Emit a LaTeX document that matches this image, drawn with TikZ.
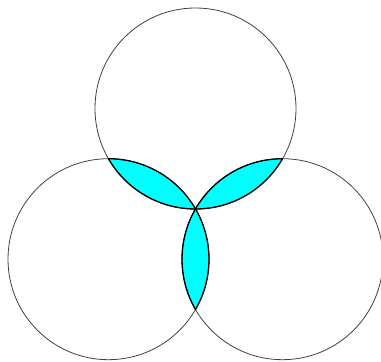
\documentclass[tikz,border=0pt]{standalone}
\definecolor{lenscyan}{RGB}{0,255,255}
\begin{document}
\begin{tikzpicture}[x=1pt,y=-1pt,
  ring/.style={draw=black!75,line width=0.8pt},
  lensedge/.style={draw=black,line width=1.3pt},
  lensfill/.style={fill=lenscyan}]
\useasboundingbox (0,0) rectangle (381,362);
\def\R{100.5}
\coordinate (P) at (195.5,209);
\coordinate (T) at (195.5,108.5);
\coordinate (L) at (108.5,259.2);
\coordinate (Rc) at (282.5,259.2);
% lens fills
\begin{scope}\clip (T) circle (\R); \fill[lensfill] (L) circle (\R); \fill[lensfill] (Rc) circle (\R); \end{scope}
\begin{scope}\clip (L) circle (\R); \fill[lensfill] (Rc) circle (\R); \end{scope}
% circles
\draw[ring] (T) circle (\R);
\draw[ring] (L) circle (\R);
\draw[ring] (Rc) circle (\R);
% lens outlines
\begin{scope}\clip (T) circle (\R); \draw[lensedge] (L) circle (\R); \draw[lensedge] (Rc) circle (\R); \end{scope}
\begin{scope}\clip (L) circle (\R); \draw[lensedge] (T) circle (\R); \draw[lensedge] (Rc) circle (\R); \end{scope}
\begin{scope}\clip (Rc) circle (\R); \draw[lensedge] (T) circle (\R); \draw[lensedge] (L) circle (\R); \end{scope}
\end{tikzpicture}
\end{document}
